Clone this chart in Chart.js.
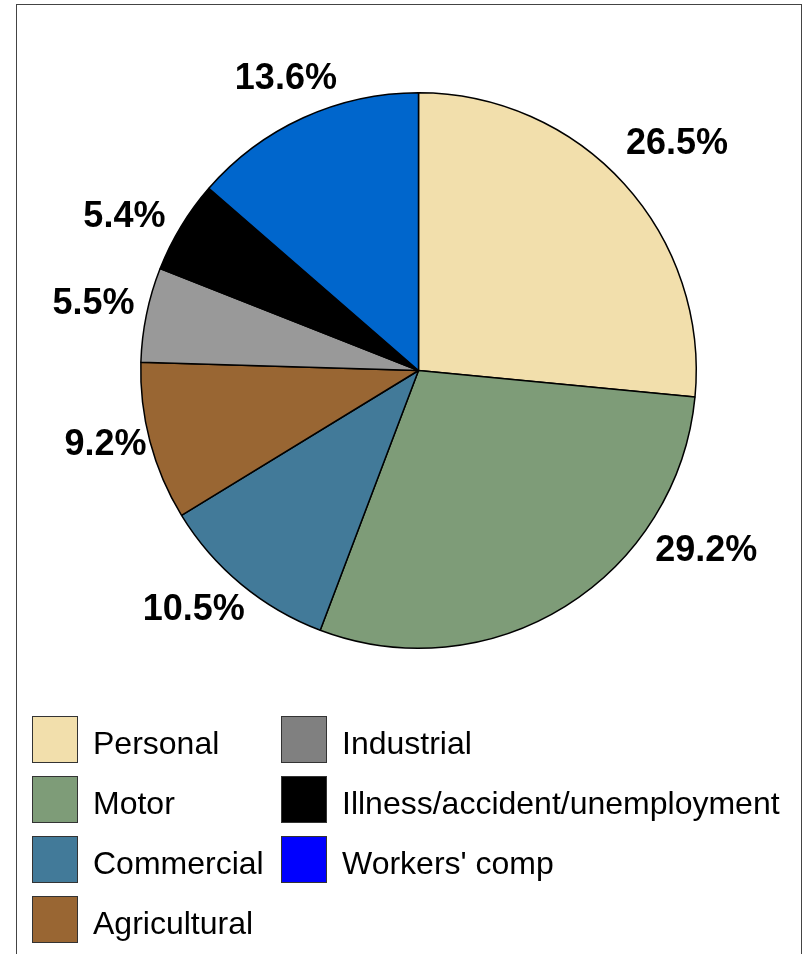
<!DOCTYPE html>
<html>
<head>
<meta charset="utf-8">
<script src="https://cdn.jsdelivr.net/npm/chart.js@4"></script>
<style>
  html, body { margin: 0; padding: 0; background: #fff; }
  #wrap { position: relative; width: 805px; height: 954px; overflow: hidden; }
  #frame { position: absolute; left: 16px; top: 4px; width: 786px; height: 960px;
           border: 1.5px solid #444; box-sizing: border-box; }
  #pie { position: absolute; left: 0; top: 0; }
  .leg { position: absolute; font-family: "Liberation Sans", Arial, sans-serif;
         font-size: 32px; color: #000; display: flex; align-items: center; }
  .leg span.box { width: 44px; height: 45px; border: 1.5px solid #333; margin-right: 15px; }
  .leg span.txt { position: relative; top: 4px; }
</style>
</head>
<body>
<div id="wrap">
  <div id="frame"></div>
  <canvas id="pie" width="805" height="954"></canvas>
  <div id="legend"></div>
</div>
<script>
// Datos del gráfico
const categories = ['Personal', 'Motor', 'Commercial', 'Agricultural', 'Industrial',
                    'Illness/accident/unemployment', "Workers' comp"];
const shares = [26.5, 29.2, 10.5, 9.2, 5.5, 5.4, 13.6];
const sliceColors = ['#F2DFAC', '#7E9C78', '#427A99', '#996633', '#999999', '#000000', '#0066CC'];
const legendColors = ['#F2DFAC', '#7E9C78', '#427A99', '#996633', '#808080', '#000000', '#0000FF'];

// Etiquetas de porcentaje fuera de cada porción
const outerLabels = {
    id: 'outerLabels',
    afterDatasetsDraw(chart, args, opts) {
        const ctx = chart.ctx;
        const meta = chart.getDatasetMeta(0);
        ctx.save();
        ctx.font = 'bold 36px "Liberation Sans", Arial, sans-serif';
        ctx.fillStyle = '#000';
        ctx.textAlign = 'center';
        ctx.textBaseline = 'middle';
        meta.data.forEach((arc, i) => {
            const p = arc.getProps(['x', 'y', 'startAngle', 'endAngle', 'outerRadius'], true);
            const mid = (p.startAngle + p.endAngle) / 2 + opts.shift[i] * Math.PI / 180;
            const r = p.outerRadius + opts.pad[i];
            ctx.fillText(shares[i].toFixed(1) + '%', p.x + Math.cos(mid) * r, p.y + Math.sin(mid) * r);
        });
        ctx.restore();
    }
};

const chart = new Chart(document.getElementById('pie').getContext('2d'), {
    type: 'pie',
    data: {
        labels: categories,
        datasets: [{
            data: shares,
            backgroundColor: sliceColors,
            borderColor: '#000',
            borderWidth: 1.5
        }]
    },
    options: {
        responsive: false,
        animation: false,
        layout: { padding: { left: 140, right: 108, top: 92, bottom: 305 } },
        plugins: {
            legend: { display: false },
            tooltip: { enabled: false },
            // desplazamiento (grados) y separación de cada etiqueta
            outerLabels: {
                shift: [1, -26, 3.5, 1.5, 0, -3.7, 0],
                pad: [66, 62, 51, 44, 54, 54, 42]
            }
        }
    },
    plugins: [outerLabels]
});

// Leyenda en dos columnas (ordenada por columnas)
const legend = document.getElementById('legend');
categories.forEach((name, i) => {
    const col = i < 4 ? 0 : 1;
    const row = i < 4 ? i : i - 4;
    const d = document.createElement('div');
    d.className = 'leg';
    d.style.left = (col ? 281 : 32) + 'px';
    d.style.top = (715 + row * 60) + 'px';
    d.style.height = '48px';
    d.innerHTML = '<span class="box" style="background:' + legendColors[i] + '"></span>' +
                  '<span class="txt">' + name + '</span>';
    legend.appendChild(d);
});
</script>
</body>
</html>
